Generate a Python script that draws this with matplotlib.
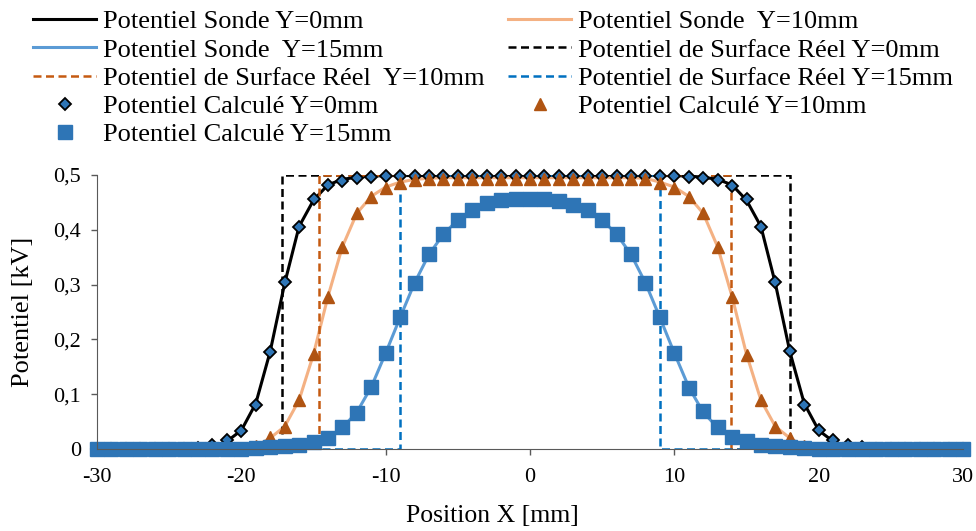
import matplotlib
matplotlib.use('Agg')
import matplotlib.pyplot as plt
import numpy as np

plt.rcParams['font.family'] = ['Liberation Serif', 'DejaVu Serif']
plt.rcParams['axes.unicode_minus'] = False

# positions des points (mm)
x = np.arange(-30, 31)

# potentiel calculé (kV)
calc_y0 = [0, 0, 0, 0, 0, 0, 0, 0.002, 0.007, 0.016, 0.033, 0.080, 0.177, 0.305, 0.406,
           0.456, 0.481, 0.489, 0.494, 0.497, 0.498, 0.498, 0.498, 0.498, 0.498, 0.498,
           0.498, 0.498, 0.498, 0.498, 0.498, 0.498, 0.498, 0.498, 0.498, 0.498, 0.498,
           0.498, 0.498, 0.498, 0.498, 0.497, 0.495, 0.491, 0.480, 0.456, 0.406, 0.305,
           0.178, 0.080, 0.035, 0.016, 0.008, 0.003, 0, 0, 0, 0, 0, 0, 0]
calc_y10 = [0, 0, 0, 0, 0, 0, 0, 0, 0, 0, 0, 0.006, 0.021, 0.041, 0.089, 0.173, 0.278,
            0.369, 0.430, 0.460, 0.477, 0.486, 0.491, 0.492, 0.492, 0.492, 0.492, 0.492,
            0.492, 0.492, 0.492, 0.492, 0.492, 0.492, 0.492, 0.492, 0.492, 0.492, 0.492,
            0.486, 0.477, 0.460, 0.430, 0.368, 0.278, 0.172, 0.089, 0.041, 0.020, 0.006,
            0, 0, 0, 0, 0, 0, 0, 0, 0, 0, 0]
calc_y15 = [0, 0, 0, 0, 0, 0, 0, 0, 0, 0, 0, 0.001, 0.003, 0.005, 0.007, 0.012, 0.020,
            0.040, 0.066, 0.114, 0.175, 0.240, 0.303, 0.355, 0.392, 0.418, 0.436, 0.448,
            0.454, 0.457, 0.457, 0.457, 0.453, 0.446, 0.436, 0.418, 0.392, 0.356, 0.303,
            0.241, 0.175, 0.112, 0.069, 0.040, 0.022, 0.014, 0.007, 0.005, 0.004, 0.001,
            0, 0, 0, 0, 0, 0, 0, 0, 0, 0, 0]

# potentiel sonde (kV)
sonde_y0 = [0, 0, 0, 0, 0, 0, 0, 0, 0.004, 0.014, 0.034, 0.083, 0.178, 0.302, 0.406,
            0.454, 0.482, 0.492, 0.496, 0.498, 0.499, 0.499, 0.499, 0.499, 0.499, 0.499,
            0.499, 0.499, 0.499, 0.499, 0.499, 0.499, 0.499, 0.499, 0.499, 0.499, 0.499,
            0.499, 0.499, 0.499, 0.499, 0.498, 0.496, 0.492, 0.482, 0.454, 0.406, 0.302,
            0.178, 0.083, 0.034, 0.014, 0.004, 0, 0, 0, 0, 0, 0, 0, 0]
sonde_y10 = [0, 0, 0, 0, 0, 0, 0, 0, 0, 0, 0, 0.005, 0.020, 0.041, 0.089, 0.173, 0.278,
             0.369, 0.430, 0.461, 0.478, 0.487, 0.492, 0.494, 0.495, 0.495, 0.495, 0.495,
             0.495, 0.495, 0.495, 0.495, 0.495, 0.495, 0.495, 0.495, 0.495, 0.495, 0.494,
             0.487, 0.478, 0.461, 0.430, 0.369, 0.278, 0.173, 0.089, 0.041, 0.020, 0.005,
             0, 0, 0, 0, 0, 0, 0, 0, 0, 0, 0]
sonde_y15 = [0, 0, 0, 0, 0, 0, 0, 0, 0, 0, 0, 0, 0.002, 0.004, 0.007, 0.012, 0.020,
             0.039, 0.067, 0.113, 0.175, 0.240, 0.303, 0.355, 0.392, 0.418, 0.436, 0.448,
             0.454, 0.457, 0.458, 0.457, 0.454, 0.448, 0.436, 0.418, 0.392, 0.355, 0.303,
             0.240, 0.175, 0.113, 0.067, 0.039, 0.020, 0.012, 0.007, 0.004, 0.002, 0,
             0, 0, 0, 0, 0, 0, 0, 0, 0, 0, 0]

# potentiel de surface réel (créneaux)
surf0_x = [-30, -17.2, -17.2, 18, 18, 30]
surf0_y = [0, 0, 0.5, 0.5, 0, 0]
surf10_x = [-30, -14.6, -14.6, 13.9, 13.9, 30]
surf10_y = [0, 0, 0.5, 0.5, 0, 0]
surf15_x = [-30, -9.0, -9.0, 9.0, 9.0, 30]
surf15_y = [0, 0, 0.5, 0.5, 0, 0]

xticks = [-30, -20, -10, 0, 10, 20, 30]
yticks = [0, 0.1, 0.2, 0.3, 0.4, 0.5]
ytick_labels = ['0', '0,1', '0,2', '0,3', '0,4', '0,5']

fig = plt.figure(figsize=(9.76, 5.31), dpi=100)
ax = fig.add_axes([97 / 976, 1 - 449 / 531, 866 / 976, 274 / 531])

l_s0, = ax.plot(x, sonde_y0, color='black', lw=2.2, label='Potentiel Sonde Y=0mm')
l_s10, = ax.plot(x, sonde_y10, color='#F4B183', lw=2.2, label='Potentiel Sonde  Y=10mm')
l_s15, = ax.plot(x, sonde_y15, color='#5B9BD5', lw=2.2, label='Potentiel Sonde  Y=15mm')

l_r0, = ax.plot(surf0_x, surf0_y, color='black', lw=1.8, dashes=(3.2, 1.8),
                label='Potentiel de Surface Réel Y=0mm')
l_r10, = ax.plot(surf10_x, surf10_y, color='#C55A11', lw=1.8, dashes=(3.2, 1.8),
                 label='Potentiel de Surface Réel  Y=10mm')
l_r15, = ax.plot(surf15_x, surf15_y, color='#0070C0', lw=1.8, dashes=(3.2, 1.8),
                 label='Potentiel de Surface Réel Y=15mm')

l_c0, = ax.plot(x, calc_y0, ls='none', marker='D', ms=6.5, mfc='#2E75B6', mec='black',
                mew=1.3, clip_on=False, label='Potentiel Calculé Y=0mm')
l_c10, = ax.plot(x, calc_y10, ls='none', marker='^', ms=8, mfc='#B05412', mec='#B05412',
                 clip_on=False, label='Potentiel Calculé Y=10mm')
l_c15, = ax.plot(x, calc_y15, ls='none', marker='s', ms=9.5, mfc='#2E75B6', mec='#2E75B6',
                 clip_on=False, label='Potentiel Calculé Y=15mm')

ax.set_xlim(-30, 30)
ax.set_ylim(0, 0.5)
ax.set_xticks(xticks)
ax.set_yticks(yticks)
ax.set_yticklabels(ytick_labels)
ax.tick_params(labelsize=16, direction='out', length=4.5, width=1, color='#595959')
ax.tick_params(axis='x', pad=9)
ax.tick_params(axis='y', pad=7)
for side in ['top', 'right']:
    ax.spines[side].set_visible(False)
for side in ['left', 'bottom']:
    ax.spines[side].set_color('#595959')
ax.set_xlabel('Position X [mm]', fontsize=18.5)
ax.xaxis.set_label_coords(0.457, -0.205)
ax.set_ylabel('Potentiel [kV]', fontsize=19, labelpad=14)

leg_kw = dict(frameon=False, fontsize=19, handlelength=2.4, handletextpad=0.25,
              labelspacing=0.18, borderpad=0, borderaxespad=0, loc='upper left')
fig.legend(handles=[l_s0, l_s15, l_r10, l_c0, l_c15],
           bbox_to_anchor=(33 / 976, 1 - 10 / 531), **leg_kw)
fig.legend(handles=[l_s10, l_r0, l_r15, l_c10],
           bbox_to_anchor=(508 / 976, 1 - 10 / 531), **leg_kw)

fig.savefig('out.png', dpi=100)
